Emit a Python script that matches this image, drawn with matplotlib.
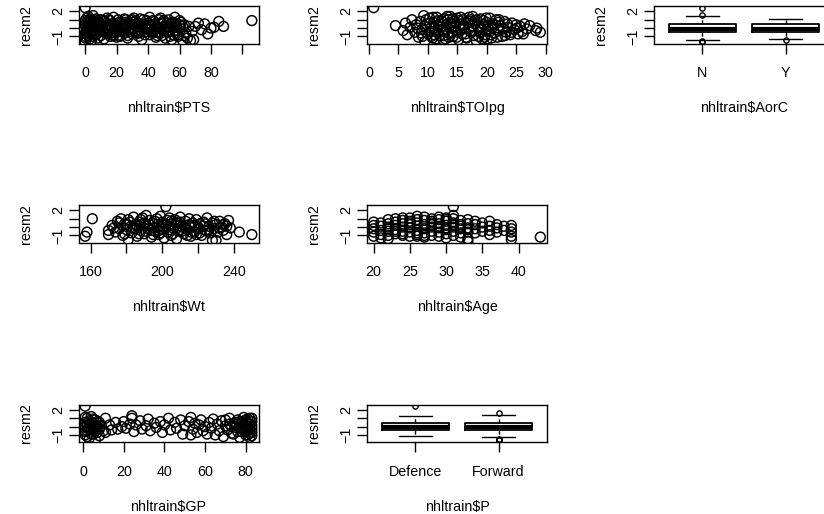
#Residual plots of resm2 against the predictors (3x3 layout)

import numpy as np
import matplotlib.pyplot as plt

plt.rcParams['font.family'] = ['Liberation Sans', 'DejaVu Sans']
plt.rcParams['font.size'] = 10.3
plt.rcParams['axes.unicode_minus'] = True

#residuals vs PTS
pts_x = [0,0,0,0,1,1,1,1,2,2,2,3,3,3,4,4,5,5,5,6,6,7,7,8,8,9,9,10,10,
         11,12,12,13,14,14,15,16,16,17,18,18,19,20,20,21,22,22,23,24,25,25,26,27,27,28,29,30,30,
         31,32,33,34,35,35,36,37,38,39,40,41,41,42,43,44,45,46,47,48,48,49,50,
         51,52,53,53,54,55,56,57,57,58,59,60,61,62,63,64,65,66,67,68,69,
         70,72,74,76,78,80,82,85,88,106,
         0,2,4,6,8,10,12,14,16,18,20,22,24,26,28,30,32,34,36,38,40,42,44,46,48,50,52,54,56,58,60,
         0,0,1,1,2,3,4,5,
         1,3,5,7,9,11,13,15,17,19,21,23,25,27,29,31,33,35,37,39,41,43,45,47,49,51,53,55,57,59,61,63,
         2,6,10,14,18,22,26,30,34,38,42,46,50,54,58,62]
pts_y = [2.45,-1.7,0.9,-0.6,1.2,-1.1,0.2,-0.3,0.6,-0.9,1.4,0.0,-1.3,0.8,-0.5,1.0,0.3,-1.0,1.5,-0.2,0.7,-0.8,1.1,0.1,-1.2,0.5,-0.4,1.0,-0.9,
         0.2,-1.3,0.8,-0.3,1.2,-0.7,0.4,-1.0,0.9,0.0,1.3,-0.5,0.5,-1.1,0.2,1.0,-0.4,0.7,-0.9,0.3,1.1,-0.6,0.0,-1.2,0.6,-0.2,0.9,-0.7,0.4,
         1.2,-0.3,0.6,-1.0,0.1,1.1,-1.4,0.5,-0.5,0.9,-0.1,1.3,-0.8,0.3,-0.4,0.8,-1.1,0.2,1.0,-0.6,1.2,0.5,-0.2,
         -1.2,0.6,1.0,-0.5,0.1,-1.4,0.7,1.3,-0.3,0.3,-0.8,0.9,-0.1,-1.5,0.4,-0.6,-1.2,0.2,-1.5,-0.4,-1.4,
         0.2,0.6,-0.2,0.5,-0.7,0.0,0.1,0.8,0.2,0.9,
         0.3,-0.2,0.5,-0.6,0.7,0.1,-0.4,0.3,-0.2,0.6,-0.5,0.1,-0.3,0.7,0.4,-0.1,0.8,-0.6,0.2,-0.8,0.6,-0.1,0.4,-0.5,0.0,0.7,-0.4,0.5,-0.8,0.1,0.4,
         -1.2,0.4,0.7,-0.7,-0.4,1.1,-1.5,-0.3,
         -0.5,0.4,-0.7,0.3,-0.1,0.9,-0.6,1.0,-0.8,0.1,0.6,-0.2,0.4,-0.9,-0.4,0.7,-0.6,-0.3,1.0,-0.1,0.4,0.9,-0.5,0.0,-0.9,0.3,0.1,0.6,0.5,-1.0,0.7,-0.9,
         0.1,1.0,-0.3,0.0,-0.9,-1.0,1.0,1.0,0.5,0.2,-0.5,-0.9,0.9,-1.0,-0.3,0.2]

#residuals vs TOIpg
toi_x = [0.8,4.5,5.8,6.2,6.5,7.0,7.3,7.8,8.0,8.4,8.7,9.0,9.3,9.5,9.8,10.0,10.3,10.5,10.8,11.0,
         11.2,11.5,11.8,12.0,12.3,12.5,12.8,13.0,13.2,13.5,13.8,14.0,14.3,14.5,14.8,15.0,15.2,15.5,15.8,16.0,
         16.2,16.5,16.8,17.0,17.2,17.5,17.8,18.0,18.2,18.5,18.8,19.0,19.2,19.5,19.8,20.0,20.3,20.5,20.8,21.0,
         21.3,21.6,22.0,22.3,22.6,23.0,23.3,23.6,24.0,24.3,24.7,25.0,25.3,25.7,26.0,26.4,26.8,27.3,28.3,29.1,28.5,
         9.5,10.2,11.0,12.0,13.0,14.0,15.0,16.0,17.0,18.0,19.0,20.0,21.0,22.0,12.6,14.2,17.6,20.1,
         8.2,8.9,9.7,10.4,11.1,11.7,12.2,12.9,13.4,14.1,14.6,15.3,15.9,16.4,17.1,17.7,18.3,18.9,19.4,20.2,
         20.7,21.4,22.1,22.8,23.5,24.2,25.1,26.2,
         9.1,10.6,11.4,12.7,13.6,14.9,16.6,18.6,19.6,21.8,23.1,10.9,13.3,15.6,17.3,19.9]
toi_y = [2.45,0.3,-0.3,0.6,-0.8,0.1,1.0,-0.5,0.4,-1.1,0.8,-0.2,1.5,-1.6,0.5,-0.7,1.2,0.0,-1.2,0.7,
         -0.4,1.3,0.2,-0.9,0.9,-0.3,1.1,-1.3,0.4,-0.6,1.4,0.1,-1.0,0.8,-0.2,1.2,-1.4,0.5,-0.7,1.0,
         0.0,-1.1,0.6,1.3,-0.4,0.3,-0.9,0.9,-1.5,0.2,-0.5,1.1,-1.3,0.4,-0.8,0.7,-0.1,1.2,-1.2,0.5,
         -0.6,1.0,-0.3,0.3,-1.0,0.8,-0.5,0.1,-0.8,0.6,-0.2,0.4,-0.7,0.2,-0.4,0.5,-0.1,0.3,-0.3,-0.5,0.0,
         0.2,-0.4,0.0,0.5,-0.2,0.6,-0.5,0.3,-0.1,0.5,0.0,-0.4,0.1,0.7,-1.4,1.1,1.4,-1.3,
         0.0,-0.6,1.0,0.6,-0.8,0.9,0.1,-0.5,1.0,-0.5,0.2,0.9,0.1,-0.7,0.8,-0.3,1.0,-0.2,0.9,0.3,
         -0.8,0.4,1.0,-0.1,0.5,-0.5,0.0,-0.7,
         -1.0,-1.0,-1.3,-0.9,-1.1,-1.1,-1.2,-1.0,-1.1,-1.1,-0.9,1.3,1.4,1.3,1.0,1.2]

#residuals vs Wt
wt_x = [157,158,161,170,170,172,174,175,176,177,178,179,180,181,181,182,183,184,185,186,
        187,188,189,190,190,191,192,193,194,195,196,197,198,198,199,200,200,201,202,202,
        203,204,205,205,206,207,208,208,209,210,211,212,213,214,215,216,216,217,218,219,
        220,221,222,223,224,225,226,227,228,228,229,230,230,231,232,233,234,235,236,237,238,243,250,
        185,190,195,200,205,210,215,220,225,195,210,188,213,
        173,176,179,182,184,186,188,191,193,196,198,201,203,206,208,211,213,216,218,221,223,226,229,232,234,236,
        180,187,194,199,204,209,214,219,224]
wt_y = [-1.1,-0.6,1.0,-0.4,-0.9,0.2,-0.6,0.7,-0.2,1.0,-1.0,0.4,-0.3,-1.5,0.9,0.0,-0.7,1.2,0.3,-1.1,
        0.6,-0.4,1.1,-0.8,0.2,1.4,-0.2,0.8,-1.2,0.4,-0.5,1.0,-0.9,0.1,1.3,-0.3,0.6,-1.3,2.45,0.2,
        -0.6,1.1,-1.0,0.4,-0.1,0.9,-1.4,0.3,-0.5,1.2,0.0,-0.8,0.7,-0.3,1.0,-1.1,0.2,0.5,-0.6,0.9,
        -0.2,0.4,-1.0,0.6,-0.4,1.1,0.1,-0.7,-1.6,0.5,-0.2,-1.6,0.3,-0.6,0.7,0.0,-0.4,0.4,-0.9,0.8,-0.1,-0.6,-0.9,
        -0.2,0.5,-0.1,0.0,0.7,-0.3,0.3,0.0,-0.5,-0.9,0.6,0.3,-0.1,
        -0.1,0.5,-0.8,0.6,-0.2,0.1,0.9,-0.5,0.3,0.7,-0.4,0.5,0.8,-0.8,0.6,-0.5,0.2,-0.6,0.2,-0.7,0.1,-0.3,0.7,-0.1,0.3,0.1,
        0.3,-0.8,-0.4,-0.7,-0.3,0.5,-1.0,-0.9,0.4]

#residuals vs Age (whole years)
age_x = [20,20,20,20,20, 21,21,21,21,21, 22,22,22,22,22,22, 23,23,23,23,23, 24,24,24,24,24,
         25,25,25,25,25,25, 26,26,26,26,26,26, 27,27,27,27,27,27, 28,28,28,28,28,
         29,29,29,29,29,29, 30,30,30,30,30,30, 31,31,31,31,31,31,31, 32,32,32,32,32,
         33,33,33,33,33,33, 34,34,34,34, 35,35,35, 36,36,36,36, 37,37,37, 38,38,
         39,39,39,39,39, 43,
         22,23,24,25,26,27,28,29,30,31,32,33, 24,26,28,30]
age_y = [-1.1,-0.6,-0.2,0.2,0.6, -1.3,-0.9,-0.4,0.1,0.5, -1.4,-1.0,-0.5,0.0,0.4,0.9, -0.8,-0.3,0.2,0.6,1.0,
         -1.0,-0.5,0.0,0.4,0.8, -1.1,-0.6,-0.1,0.3,0.7,1.1, -0.9,-0.4,0.1,0.5,0.9,1.3,
         -1.2,-0.7,-0.2,0.3,0.8,1.2, -1.0,-0.5,0.0,0.5,1.0, -1.1,-0.6,-0.1,0.4,0.9,1.2,
         -1.3,-0.8,-0.3,0.2,0.7,1.1, -1.0,-0.5,0.0,0.5,1.0,1.4,2.45, -1.2,-0.7,-0.2,0.3,0.8,
         -1.7,-1.4,-0.6,-0.1,0.4,0.9, -0.7,-0.2,0.3,0.7, -0.5,0.0,0.5, -0.9,-0.4,0.1,0.7,
         -0.6,-0.1,0.3, -0.4,0.1, -1.5,-1.1,-0.6,-0.2,0.2, -1.2,
         -0.2,-0.5,-0.8,0.5,-0.7,-1.0,0.3,0.1,-0.1,0.3,0.1,-0.3, 1.1,-1.1,0.7,0.9]

#residuals vs GP
gp_x = [1,1,1,2,2,2,3,3,4,4,5,5,6,6,7,7,8,8,9,10,3,1,5,2,6,
        11,11,13,14,16,17,19,20,21,23,24,24,25,26,28,29,31,32,33,35,36,38,39,40,42,43,45,46,48,49,
        50,52,53,53,54,55,56,57,58,59,60,
        61,62,63,64,65,66,67,68,69,70,71,72,73,74,75,76,77,77,78,79,
        79,80,80,81,81,81,82,82,82,82,83,83,83,83,76,78,74,70,
        72,75,78,80,81,82,83,83,82,81,80,79,77,73,1,2,3,4,5,7,8,1,4,6]
gp_y = [2.45,0.5,-0.6,-1.2,0.1,1.0,-0.3,0.7,1.2,-0.9,0.3,-0.4,-1.6,0.8,0.0,-0.7,0.5,-1.1,0.1,-0.5,-1.4,-1.0,0.9,0.4,-0.2,
        1.0,-0.7,0.2,-0.4,0.5,-0.3,0.0,0.6,-0.2,0.3,1.3,1.0,-0.6,0.2,0.7,-0.3,0.1,0.9,-0.5,0.4,-0.1,0.6,-0.7,0.2,1.0,-0.4,0.5,-0.2,0.8,-0.9,
        0.1,0.6,-1.0,1.1,-0.3,0.4,-0.7,0.2,0.8,-0.5,0.0,
        -0.9,0.5,-0.2,0.9,-1.0,0.3,-0.5,0.7,-1.2,0.1,-0.4,1.0,-0.8,0.4,-0.1,0.8,-1.3,0.2,-0.6,1.1,
        -0.2,0.5,-1.0,0.0,0.9,-0.5,-1.3,0.3,1.0,-0.8,-0.3,0.6,-1.1,0.1,-0.6,0.5,-0.9,0.8,
        0.3,0.5,-0.3,0.8,-1.0,0.7,-0.7,1.0,-0.4,0.4,-0.4,0.2,0.6,0.0,0.0,-0.5,0.3,-0.3,-0.9,0.6,-0.3,1.1,0.4,0.2]

#boxplot summaries
aorc_labels = ['N', 'Y']
aorc_q1 = [-0.48, -0.45]
aorc_med = [-0.05, -0.05]
aorc_q3 = [0.5, 0.5]
aorc_lo = [-1.4, -1.28]
aorc_hi = [1.5, 1.08]
aorc_out = [[2.45, 1.6, -1.55, -1.65], [-1.4]]

pos_labels = ['Defence', 'Forward']
pos_q1 = [-0.43, -0.43]
pos_med = [0.0, 0.0]
pos_q3 = [0.48, 0.48]
pos_lo = [-1.17, -1.22]
pos_hi = [1.26, 1.35]
pos_out = [[2.45], [1.6, -1.45, -1.55, -1.65]]

W, H = 824, 514
fig = plt.figure(figsize=(W / 100, H / 100), dpi=100)

#panel boxes in pixels (left, top); each 180 x 37.5
col_left = [78.5, 367, 654]
row_top = [6, 205, 404.5]

def panel(c, r):
    return fig.add_axes([col_left[c] / W, 1 - (row_top[r] + 37.5) / H, 180 / W, 37.5 / H])

def style(ax, xlabel):
    for s in ax.spines.values():
        s.set_linewidth(1.0)
    ax.set_ylim(-1.85, 2.65)
    ax.set_yticks([-1, 0, 1, 2])
    ax.set_yticklabels(['\u22121', '', '', '2'], rotation=90, va='center')
    ax.tick_params(direction='out', length=7.5, width=1.0, colors='black')
    ax.tick_params(axis='x', pad=8.7)
    ax.tick_params(axis='y', pad=2.2)
    ax.set_ylabel('resm2', va='center')
    ax.yaxis.set_label_coords(-0.292, 0.5)
    ax.set_xlabel(xlabel, va='center')
    ax.xaxis.set_label_coords(0.5, -1.73)

def scatter_panel(ax, x, y, ticks, labels, xlabel):
    ax.scatter(x, y, s=50, facecolors='none', edgecolors='black', linewidths=1.05)
    ax.margins(x=0.04)
    ax.set_xticks(ticks)
    ax.set_xticklabels(labels)
    style(ax, xlabel)

def box_panel(ax, names, q1, med, q3, lo, hi, out, xlabel):
    stats = []
    for i in range(len(names)):
        stats.append(dict(q1=q1[i], med=med[i], q3=q3[i], whislo=lo[i], whishi=hi[i], fliers=out[i]))
    ax.bxp(stats, positions=[1, 2], widths=0.8,
           boxprops=dict(color='black', linewidth=1.3),
           medianprops=dict(color='black', linewidth=3.0),
           whiskerprops=dict(color='black', linewidth=1.0, linestyle=(0, (3, 2))),
           capprops=dict(color='black', linewidth=1.0),
           flierprops=dict(marker='o', markerfacecolor='none', markeredgecolor='black',
                           markersize=3.8, markeredgewidth=1.0))
    ax.set_xlim(0.42, 2.58)
    ax.set_xticks([1, 2])
    ax.set_xticklabels(names)
    style(ax, xlabel)

ax = panel(0, 0)
scatter_panel(ax, pts_x, pts_y, [0, 20, 40, 60, 80, 100], ['0', '20', '40', '60', '80', ''], 'nhltrain$PTS')

ax = panel(1, 0)
scatter_panel(ax, toi_x, toi_y, [0, 5, 10, 15, 20, 25, 30], ['0', '5', '10', '15', '20', '25', '30'], 'nhltrain$TOIpg')

ax = panel(2, 0)
box_panel(ax, aorc_labels, aorc_q1, aorc_med, aorc_q3, aorc_lo, aorc_hi, aorc_out, 'nhltrain$AorC')

ax = panel(0, 1)
scatter_panel(ax, wt_x, wt_y, [160, 180, 200, 220, 240], ['160', '', '200', '', '240'], 'nhltrain$Wt')

ax = panel(1, 1)
scatter_panel(ax, age_x, age_y, [20, 25, 30, 35, 40], ['20', '25', '30', '35', '40'], 'nhltrain$Age')

ax = panel(0, 2)
scatter_panel(ax, gp_x, gp_y, [0, 20, 40, 60, 80], ['0', '20', '40', '60', '80'], 'nhltrain$GP')

ax = panel(1, 2)
box_panel(ax, pos_labels, pos_q1, pos_med, pos_q3, pos_lo, pos_hi, pos_out, 'nhltrain$P')

fig.savefig('out.png', dpi=100)
